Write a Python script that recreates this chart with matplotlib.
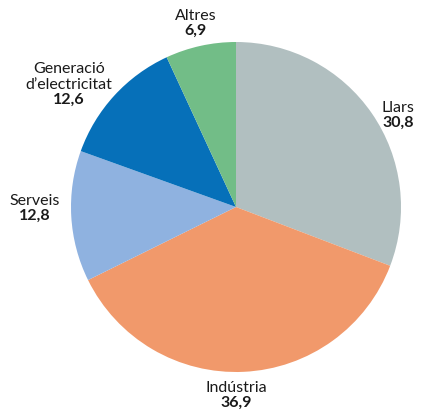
import matplotlib
matplotlib.use("Agg")
import matplotlib.pyplot as plt

categories = ["Llars", "Indústria", "Serveis", "Generació\nd\u2019electricitat", "Altres"]
values = [30.8, 36.9, 12.8, 12.6, 6.9]
value_labels = ["30,8", "36,9", "12,8", "12,6", "6,9"]
colors = ["#b1bfc0", "#f1996b", "#8fb2e0", "#0670b9", "#72bd87"]

W, H = 425, 412
fig = plt.figure(figsize=(W / 100, H / 100), dpi=100)
ax = fig.add_axes([0, 0, 1, 1])

cx, cy, r = 236, H - 207, 165
ax.pie(values, colors=colors, startangle=90, counterclock=False,
       center=(cx, cy), radius=r, frame=True,
       wedgeprops=dict(linewidth=0))
ax.set_xlim(0, W)
ax.set_ylim(0, H)
ax.set_aspect("equal")
ax.axis("off")

font = "Lato"
# label anchor (x, y of the value line in pixels from top) and alignment
label_pos = [(414, 123, "right"), (236, 403, "center"), (35, 216, "center"),
             (69, 100, "center"), (196, 31, "center")]
for name, vl, (x, y, ha) in zip(categories, value_labels, label_pos):
    ax.text(x, H - y, vl, ha=ha, va="center", fontsize=11.5,
            fontweight="bold", family=font, color="#1a1a1a")
    ax.text(x, H - y + 8.5, name, ha=ha, va="bottom", fontsize=11.5,
            family=font, color="#1a1a1a", linespacing=1.15)

fig.savefig("out.png", dpi=100, facecolor="white")
